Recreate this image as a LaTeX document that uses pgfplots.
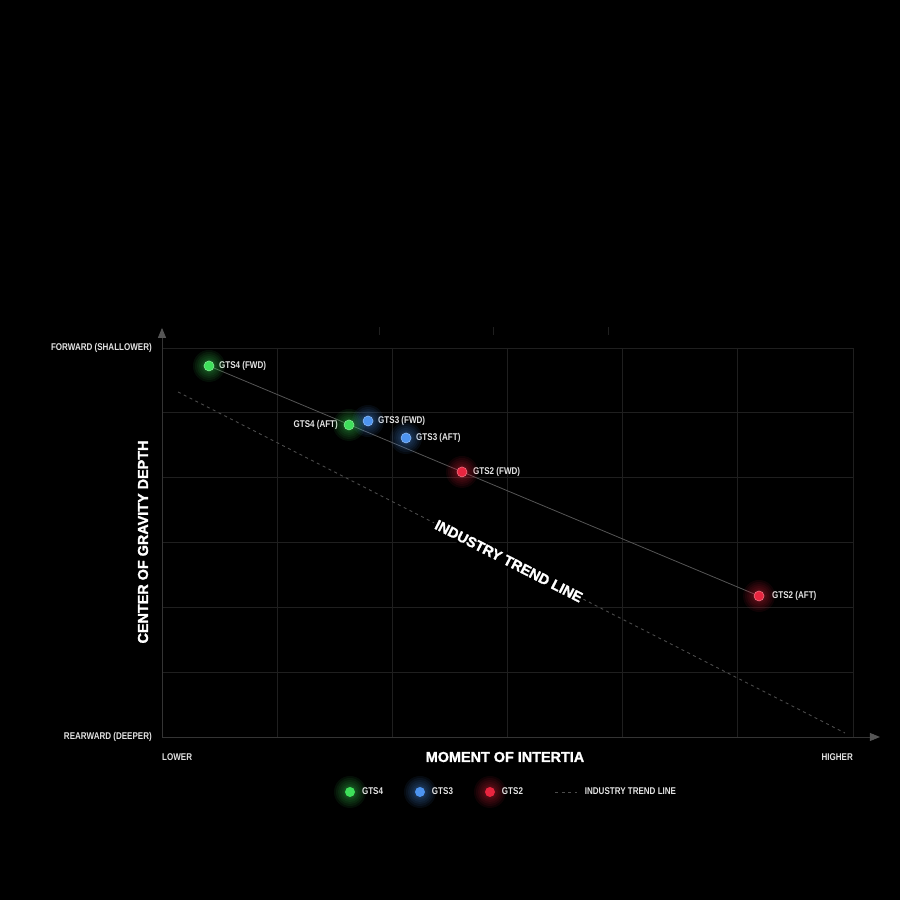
\documentclass[border=0pt]{standalone}
\usepackage{fontspec}
\setmainfont{Liberation Sans}
\newfontfamily\narrowfont[FakeStretch=0.82]{Liberation Sans}
\newfontfamily\heavyfont[BoldFeatures={FakeBold=1.6}]{Liberation Sans}
\usepackage{pgfplots}
\pgfplotsset{compat=1.18}
\usetikzlibrary{arrows.meta}

\definecolor{gtsgreen}{HTML}{3EE05A}
\definecolor{gtsblue}{HTML}{4D94F0}
\definecolor{gtsred}{HTML}{E8253F}
\definecolor{gridc}{HTML}{1F1F1F}
\definecolor{axisc}{HTML}{343434}
\definecolor{arrowc}{HTML}{555555}
\definecolor{linec}{HTML}{555555}
\definecolor{trendc}{HTML}{4C4C4C}
\definecolor{txt}{HTML}{E4E4E4}

\newcommand{\lbl}{\narrowfont\bfseries\fontsize{9.8pt}{11pt}\selectfont}
\newcommand{\ttl}{\heavyfont\bfseries\fontsize{14.4pt}{16pt}\selectfont}

\pgfplotsset{
  glow/.style={only marks, mark=*, forget plot, mark size=#1,
    mark options={draw opacity=0, fill opacity=0.07}},
  dot/.style={only marks, mark=*, mark size=5pt,
    mark options={draw=#1!65!white, line width=0.6pt, fill=#1}, color=#1,
    legend image code/.code={
      \foreach \r in {16,14,12,10,8,6.5} {\path[fill=#1, draw=none, overlay, fill opacity=0.07] (5pt,0pt) circle (\r pt);}
      \path[fill=#1, draw=none] (5pt,0pt) circle (5pt);}},
}

\begin{document}
\begin{tikzpicture}[x=1pt,y=1pt]
\fill[black] (0,0) rectangle (900,900);

% faint ticks above the plot
\foreach \tx in {379,493,608} \draw[gridc, line width=0.8pt] (\tx,565) -- (\tx,573);

\begin{axis}[
  at={(162pt,163pt)}, anchor=origin,
  scale only axis, width=691pt, height=389pt,
  xmin=0, xmax=6, ymin=0, ymax=6,
  xtick={0,...,6}, ytick={0,...,6},
  xticklabels={}, yticklabels={},
  grid=major, major grid style={gridc, line width=0.8pt},
  axis line style={draw=none}, tick style={draw=none},
  clip=false,
  legend columns=4,
  legend style={at={(axis cs:1.589,-0.848)}, anchor=west,
    draw=none, fill=none, inner sep=0pt, outer sep=0pt,
    font=\lbl, text=txt,
    nodes={inner sep=0pt},
    /tikz/every odd column/.append style={column sep=7pt},
    /tikz/every even column/.append style={column sep=32pt}},
]
% axis lines with arrows
\draw[axisc, line width=0.9pt, -{Triangle[length=10pt,width=8pt,color=arrowc]}]
  (axis cs:0,0) -- (axis cs:6.234,0);
\draw[axisc, line width=0.9pt, -{Triangle[length=10pt,width=8pt,color=arrowc]}]
  (axis cs:0,0) -- (axis cs:0,6.31);

% glows
\pgfplotsinvokeforeach{16,14,12,10,8,6.5}{
  \addplot[glow=#1pt, gtsgreen] coordinates {(0.408,5.723) (1.624,4.813)};
  \addplot[glow=#1pt, gtsblue] coordinates {(1.789,4.874) (2.119,4.612)};
  \addplot[glow=#1pt, gtsred] coordinates {(2.605,4.088) (5.184,2.175)};
}

% connecting line
\addplot[linec, line width=0.8pt, forget plot] coordinates {(0.408,5.723) (5.184,2.175)};

% points
\addplot[dot=gtsgreen] coordinates {(0.408,5.723) (1.624,4.813)};
\addlegendentry{GTS4}
\addplot[dot=gtsblue] coordinates {(1.789,4.874) (2.119,4.612)};
\addlegendentry{GTS3}
\addplot[dot=gtsred] coordinates {(2.605,4.088) (5.184,2.175)};
\addlegendentry{GTS2}

% industry trend line
\addplot[trendc, line width=0.9pt, dash pattern=on 3pt off 3.5pt,
  legend image code/.code={\draw[trendc, line width=0.9pt, dash pattern=on 3pt off 3.5pt] (0pt,0pt) -- (22pt,0pt);}]
  coordinates {(0.139,5.322) (5.930,0.062)}
  node[pos=0.496, sloped, fill=black, inner sep=2pt, text=white, font=\ttl] {INDUSTRY TREND LINE};
\addlegendentry{INDUSTRY TREND LINE}

% point labels
\node[font=\lbl, text=txt, anchor=west, inner sep=0pt, xshift=10pt] at (axis cs:0.408,5.723) {GTS4 (FWD)};
\node[font=\lbl, text=txt, anchor=east, inner sep=0pt, xshift=-11pt] at (axis cs:1.624,4.813) {GTS4 (AFT)};
\node[font=\lbl, text=txt, anchor=west, inner sep=0pt, xshift=10pt] at (axis cs:1.789,4.874) {GTS3 (FWD)};
\node[font=\lbl, text=txt, anchor=west, inner sep=0pt, xshift=10pt] at (axis cs:2.119,4.612) {GTS3 (AFT)};
\node[font=\lbl, text=txt, anchor=west, inner sep=0pt, xshift=11pt] at (axis cs:2.605,4.088) {GTS2 (FWD)};
\node[font=\lbl, text=txt, anchor=west, inner sep=0pt, xshift=13pt] at (axis cs:5.184,2.175) {GTS2 (AFT)};
\end{axis}

% outer labels
\node[font=\lbl, text=txt, anchor=east, inner sep=0pt] at (152,552) {FORWARD (SHALLOWER)};
\node[font=\lbl, text=txt, anchor=east, inner sep=0pt] at (152,163) {REARWARD (DEEPER)};
\node[font=\lbl, text=txt, anchor=west, inner sep=0pt] at (162,143) {LOWER};
\node[font=\lbl, text=txt, anchor=east, inner sep=0pt] at (853,143) {HIGHER};
\node[font=\ttl, text=white, inner sep=0pt] at (505,143) {MOMENT OF INTERTIA};
\node[font=\ttl, text=white, inner sep=0pt, rotate=90] at (143,358) {CENTER OF GRAVITY DEPTH};
\end{tikzpicture}
\end{document}
